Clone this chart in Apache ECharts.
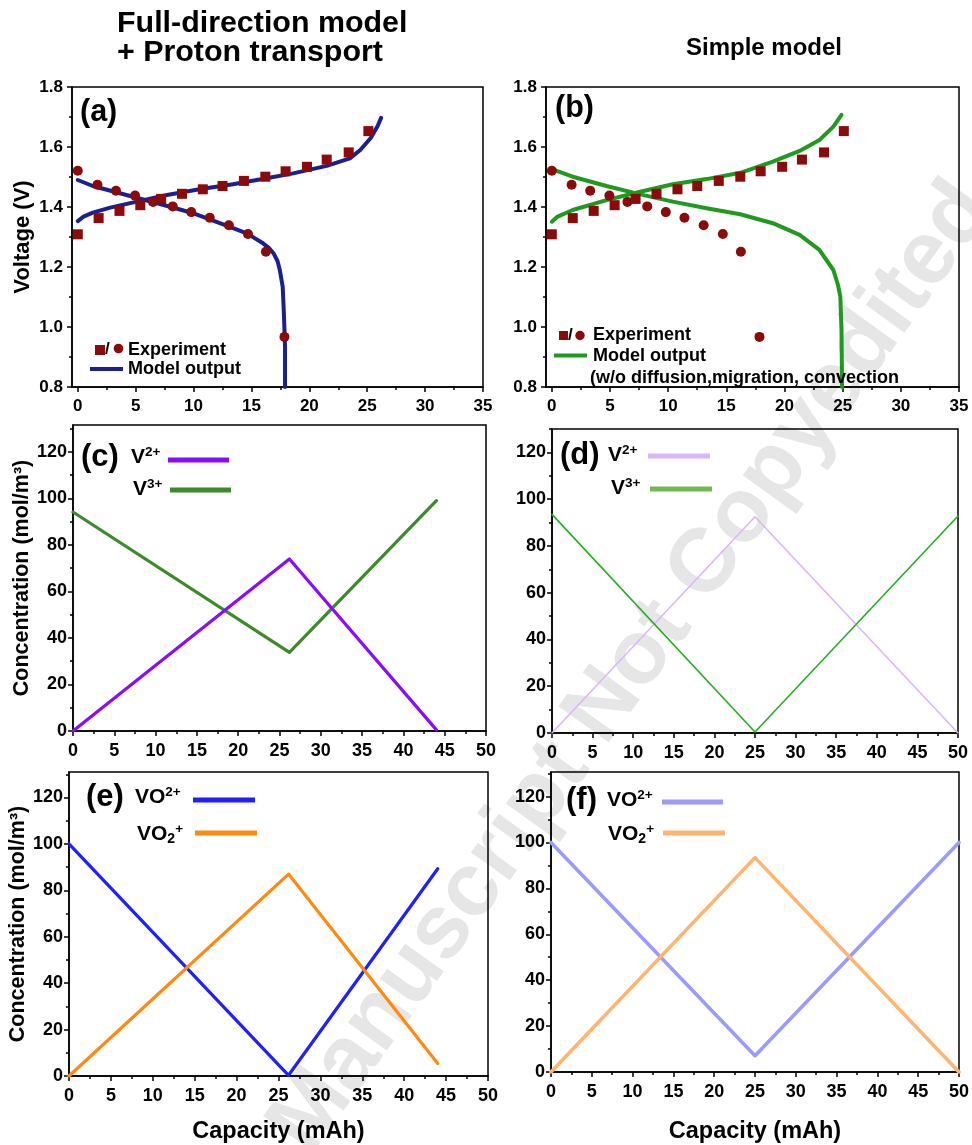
<!DOCTYPE html>
<html><head><meta charset="utf-8">
<script src="https://cdn.jsdelivr.net/npm/echarts@6/dist/echarts.min.js"></script>
<style>html,body{margin:0;padding:0;background:#fff}#c{width:972px;height:1145px}</style>
</head><body><div id="c"></div>
<script>
// ---------- tick labels ----------
const voltXMajor = [0,5,10,15,20,25,30,35];
const voltXMinor = [2.5,7.5,12.5,17.5,22.5,27.5,32.5];
const voltYMajor = [0.8,1.0,1.2,1.4,1.6,1.8];
const voltYMinor = [0.9,1.1,1.3,1.5,1.7];
const capXMajor = [0,5,10,15,20,25,30,35,40,45,50];
const capXMinor = [2.5,7.5,12.5,17.5,22.5,27.5,32.5,37.5,42.5,47.5];
const concYMajor = [0,20,40,60,80,100,120];
const concYMinor = [10,30,50,70,90,110,130];

// ---------- experiment (charge squares / discharge circles) ----------
const expChargeX = [0,1.8,3.6,5.4,7.2,9.0,10.8,12.5,14.35,16.2,17.95,19.8,21.5,23.4,25.1];
const expChargeV = [1.309,1.363,1.387,1.406,1.427,1.444,1.459,1.470,1.487,1.501,1.519,1.534,1.558,1.582,1.653];
const expDischargeX = [0,1.7,3.3,4.95,6.5,8.2,9.8,11.4,13.05,14.7,16.25,17.85];
const expDischargeV = [1.521,1.474,1.454,1.438,1.417,1.402,1.383,1.364,1.339,1.310,1.251,0.967];

// ---------- (a) full-direction model ----------
const fullChargeX = [0,0.5,1.3,2.8,5.1,7.7,10.5,13.4,16.3,18.6,21.5,23.5,24.4,25.3,25.9,26.2];
const fullChargeV = [1.353,1.368,1.381,1.398,1.418,1.440,1.459,1.476,1.496,1.512,1.537,1.562,1.590,1.630,1.670,1.697];
const fullDischargeX = [0,1.3,4.2,7.1,10.0,12.85,14.6,16.0,16.5,16.9,17.25,17.45,17.7,17.8,17.9,17.9];
const fullDischargeV = [1.490,1.470,1.440,1.410,1.379,1.338,1.312,1.279,1.264,1.246,1.220,1.190,1.134,1.047,0.934,0.800];

// ---------- (b) simple model ----------
const simpleChargeX = [0,0.5,1.8,4.7,7.6,10.4,13.3,16.2,19.0,21.3,23.0,24.2,24.9];
const simpleChargeV = [1.351,1.368,1.390,1.423,1.451,1.476,1.493,1.514,1.551,1.587,1.623,1.668,1.707];
const simpleDischargeX = [0,1.8,4.7,7.6,10.4,13.3,16.2,19.0,21.3,23.0,24.2,24.6,24.8,24.9,24.95];
const simpleDischargeV = [1.526,1.501,1.470,1.442,1.418,1.396,1.376,1.346,1.307,1.257,1.190,1.140,1.101,0.990,0.800];

// ---------- concentrations ----------
const capFullX = [0,26.2,44];
const cV2Full = [0,73.9,0.5];
const cV3Full = [94.1,33.8,99];
const capSimpleX = [0,25,50];
const cV2Simple = [0,92.5,0];
const cV3Simple = [93.5,0.4,92.8];
const cVO2pFull = [100,0.3,89.3];   // VO2+
const cVO2Full = [0,87.0,5.4];      // VO2^+ (pervanadyl)
const cVO2pSimple = [100,7.1,100];
const cVO2Simple = [0,93.4,0];

const FONT = "'Liberation Sans', Arial, Helvetica, sans-serif";
const zip = (xs, ys) => xs.map((x, i) => [x, ys[i]]);

const chart = echarts.init(document.getElementById('c'), null, {renderer: 'canvas'});

const grids = [
  {left: 72, top: 87, width: 411, height: 300},   // a
  {left: 546, top: 87, width: 413, height: 300},  // b
  {left: 73, top: 425, width: 413, height: 306},  // c
  {left: 552, top: 429, width: 406, height: 304}, // d
  {left: 69, top: 772, width: 419, height: 309},  // e
  {left: 551, top: 772, width: 409, height: 312}  // f
].map(g => Object.assign({show: true, borderColor: '#000', borderWidth: 1.5, backgroundColor: 'transparent', containLabel: false}, g));

const fmt1 = v => Number(v).toFixed(1);
const fmt0 = v => String(Math.round(v));

function axisPair(kind, gi, min, max, major, minor, fmt, margin, fs, extra) {
  const common = {type: 'value', gridIndex: gi, min: min, max: max, splitLine: {show: false}, position: kind === 'x' ? 'bottom' : 'left'};
  const main = Object.assign({}, common, {
    axisLine: {show: true, onZero: false, lineStyle: {color: '#000', width: 1.5}},
    axisTick: {show: true, inside: false, length: 5, customValues: major, lineStyle: {color: '#000', width: 1.5}},
    axisLabel: {show: true, customValues: major, formatter: fmt, color: '#000', fontFamily: FONT, fontWeight: 'bold', fontSize: fs, margin: margin},
    minorTick: {show: false}
  }, extra || {});
  const mn = Object.assign({}, common, {
    axisLine: {show: false, onZero: false},
    axisTick: {show: true, inside: false, length: 3, customValues: minor, lineStyle: {color: '#000', width: 1.5}},
    axisLabel: {show: false},
    minorTick: {show: false}
  });
  return [main, mn];
}

const nameStyle = {fontFamily: FONT, fontWeight: 'bold', fontSize: 21.5, color: '#000'};
const concName = {name: 'Concentration (mol/m³)', nameLocation: 'middle', nameGap: 35, nameTextStyle: nameStyle};
const capName = {name: 'Capacity (mAh)', nameLocation: 'middle', nameGap: 44, nameTextStyle: Object.assign({}, nameStyle, {fontSize: 23.5})};

const xAxis = [].concat(
  axisPair('x', 0, -0.5, 35, voltXMajor, voltXMinor, fmt0, 11, 17),
  axisPair('x', 1, -0.5, 35, voltXMajor, voltXMinor, fmt0, 11, 17),
  axisPair('x', 2, 0, 50, capXMajor, capXMinor, fmt0, 11, 18),
  axisPair('x', 3, 0, 50, capXMajor, capXMinor, fmt0, 11, 18),
  axisPair('x', 4, 0, 50, capXMajor, capXMinor, fmt0, 11, 18, capName),
  axisPair('x', 5, 0, 50, capXMajor, capXMinor, fmt0, 11, 18, Object.assign({}, capName, {nameGap: 48}))
);
const yAxis = [].concat(
  axisPair('y', 0, 0.8, 1.8, voltYMajor, voltYMinor, fmt1, 9, 17, {name: 'Voltage (V)', nameLocation: 'middle', nameGap: 38, nameTextStyle: Object.assign({}, nameStyle, {fontSize: 22})}),
  axisPair('y', 1, 0.8, 1.8, voltYMajor, voltYMinor, fmt1, 9, 17),
  axisPair('y', 2, 0, 131.5, concYMajor, concYMinor, fmt0, 6, 18, Object.assign({}, concName, {nameGap: 39})),
  axisPair('y', 3, 0, 130, concYMajor, concYMinor, fmt0, 6, 18),
  axisPair('y', 4, 0, 131, concYMajor, concYMinor, fmt0, 6, 18, concName),
  axisPair('y', 5, 0, 130.7, concYMajor, concYMinor, fmt0, 6, 18)
);

function line(gi, xs, ys, color, width, z) {
  return {type: 'line', xAxisIndex: 2 * gi, yAxisIndex: 2 * gi, data: zip(xs, ys), showSymbol: false, symbol: 'none',
    lineStyle: {color: color, width: width, cap: 'round', join: 'round'}, z: z || 3, silent: true};
}
function scatter(gi, xs, ys, sym, size) {
  return {type: 'scatter', xAxisIndex: 2 * gi, yAxisIndex: 2 * gi, data: zip(xs, ys), symbol: sym, symbolSize: size,
    itemStyle: {color: '#8b0a0a', opacity: 1}, z: 5, silent: true};
}

const NAVY = '#1b1f8f', GREEN_B = '#1f9a1f', RED = '#8b0a0a';
const series = [
  line(0, fullChargeX, fullChargeV, NAVY, 4),
  line(0, fullDischargeX, fullDischargeV, NAVY, 4),
  scatter(0, expChargeX, expChargeV, 'rect', 10),
  scatter(0, expDischargeX, expDischargeV, 'circle', 10),
  line(1, simpleChargeX, simpleChargeV, GREEN_B, 4),
  line(1, simpleDischargeX, simpleDischargeV, GREEN_B, 4),
  scatter(1, expChargeX, expChargeV, 'rect', 10),
  scatter(1, expDischargeX, expDischargeV, 'circle', 10),
  line(2, capFullX, cV3Full, '#3d8a2c', 3.2),
  line(2, capFullX, cV2Full, '#8a0cff', 3.2),
  line(3, capSimpleX, cV2Simple, '#dab6fb', 1.6),
  line(3, capSimpleX, cV3Simple, '#22b022', 1.6),
  line(4, capFullX, cVO2pFull, '#1f1fff', 3.2),
  line(4, capFullX, cVO2Full, '#ff8a10', 3.2),
  line(5, capSimpleX, cVO2pSimple, '#9b9bff', 3.6),
  line(5, capSimpleX, cVO2Simple, '#ffb570', 3.6)
];

// ---------- texts & legends ----------
function txt(x, y, text, size, extra) {
  return Object.assign({type: 'text', x: x, y: y, z: 20, silent: true, style: Object.assign({
    text: text, fontFamily: FONT, fontWeight: 'bold', fontSize: size, fill: '#000',
    align: 'left', textAlign: 'left', verticalAlign: 'middle', textVerticalAlign: 'middle'}, (extra && extra.style) || {})},
    extra && extra.el ? extra.el : {});
}
function seg(x1, x2, y, color, w) {
  return {type: 'line', z: 20, silent: true, shape: {x1: x1, y1: y, x2: x2, y2: y}, style: {stroke: color, lineWidth: w}};
}
function ion(x, y, base, sup, sub) {
  const rich = {
    b: {fontFamily: FONT, fontWeight: 'bold', fontSize: 21, fill: '#000', color: '#000', lineHeight: 24, verticalAlign: 'middle'},
    s: {fontFamily: FONT, fontWeight: 'bold', fontSize: 13.5, fill: '#000', color: '#000', lineHeight: 13, verticalAlign: 'top'},
    d: {fontFamily: FONT, fontWeight: 'bold', fontSize: 14, fill: '#000', color: '#000', lineHeight: 13, verticalAlign: 'bottom'}
  };
  let t = '{b|' + base + '}';
  if (sub) t += '{d|' + sub + '}';
  if (sup) t += '{s|' + sup + '}';
  return {type: 'text', x: x, y: y, z: 20, silent: true, style: {text: t, rich: rich, align: 'left', textAlign: 'left', verticalAlign: 'middle', textVerticalAlign: 'middle'}};
}

const graphic = [
  // watermark
  {type: 'text', x: 632, y: 668, rotation: 54.2 * Math.PI / 180, z: -5, silent: true,
   style: {text: 'Manuscript Not Copyedited', fontFamily: FONT, fontWeight: 'bold', fontSize: 90, fill: '#e6e6e6',
     align: 'center', textAlign: 'center', verticalAlign: 'middle', textVerticalAlign: 'middle'}},
  // titles
  txt(117, 24, 'Full-direction model', 30.4),
  txt(117, 53, '+ Proton transport', 30.4),
  txt(764, 48, 'Simple model', 24, {style: {align: 'center', textAlign: 'center'}}),
  // panel letters
  txt(80, 113, '(a)', 30.5),
  txt(555, 109, '(b)', 30.5),
  txt(81, 457, '(c)', 31),
  txt(560, 455, '(d)', 31),
  txt(86, 797, '(e)', 31),
  txt(566, 800, '(f)', 31),
  // legend (a)
  {type: 'rect', z: 20, silent: true, shape: {x: 95, y: 345, width: 10, height: 10}, style: {fill: RED}},
  txt(105, 349, '/', 17),
  {type: 'circle', z: 20, silent: true, shape: {cx: 118.5, cy: 348.5, r: 4.8}, style: {fill: RED}},
  txt(128, 350, 'Experiment', 18),
  seg(90, 123, 369, NAVY, 4),
  txt(128, 369, 'Model output', 18),
  // legend (b)
  {type: 'rect', z: 20, silent: true, shape: {x: 559, y: 331, width: 9, height: 9}, style: {fill: RED}},
  txt(568, 335, '/', 17),
  {type: 'circle', z: 20, silent: true, shape: {cx: 580, cy: 335.5, r: 4.7}, style: {fill: RED}},
  txt(593, 335, 'Experiment', 18),
  seg(554, 587, 355.5, GREEN_B, 4),
  txt(593, 356, 'Model output', 18),
  txt(590, 378, '(w/o diffusion,migration, convection', 18),
  // legend (c)
  ion(131, 457, 'V', '2+'),
  seg(168, 229, 460, '#8a0cff', 5),
  ion(133, 489, 'V', '3+'),
  seg(170, 231, 490, '#3d8a2c', 5),
  // legend (d)
  ion(608, 455, 'V', '2+'),
  seg(648, 710, 456, '#dab6fb', 5),
  ion(611, 488, 'V', '3+'),
  seg(650, 712, 489, '#72b852', 5),
  // legend (e)
  ion(135, 797, 'VO', '2+'),
  seg(193, 255, 800, '#1f1fff', 5),
  ion(137, 834, 'VO', '+', '2'),
  seg(195, 257, 833, '#ff8a10', 5),
  // legend (f)
  ion(607, 800, 'VO', '2+'),
  seg(662, 723, 802, '#9b9bff', 5),
  ion(608, 834, 'VO', '+', '2'),
  seg(663, 725, 833, '#ffb570', 5)
];

chart.setOption({
  animation: false,
  backgroundColor: '#fff',
  grid: grids,
  xAxis: xAxis,
  yAxis: yAxis,
  series: series,
  graphic: graphic
});
</script></body></html>
